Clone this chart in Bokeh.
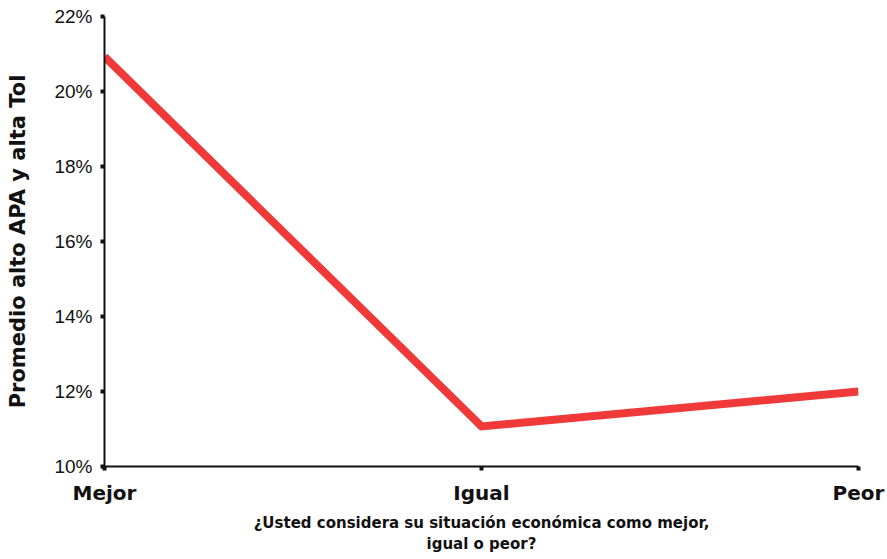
from bokeh.plotting import figure
from bokeh.models import Range1d, FixedTicker, ColumnDataSource
from bokeh.embed import file_html
from bokeh.resources import INLINE

categories = ["Mejor", "Igual", "Peor"]
values = [20.93, 11.07, 12.0]
y_ticks = [10, 12, 14, 16, 18, 20, 22]

xs = list(range(len(categories)))
src = ColumnDataSource(dict(x=xs, y=values))

p = figure(width=887, height=559, output_backend="svg", toolbar_location=None,
           x_range=Range1d(0, 2), y_range=Range1d(10, 22),
           min_border_left=104, min_border_right=29, min_border_top=16, min_border_bottom=93)
p.outline_line_color = None
p.xgrid.grid_line_color = None
p.ygrid.grid_line_color = None
p.background_fill_color = "white"

p.line("x", "y", source=src, line_color="#F03A3A", line_width=8, line_join="miter")

font = "Liberation Sans"
bold_font = "DejaVu Sans"
p.yaxis.ticker = FixedTicker(ticks=y_ticks)
p.yaxis.major_label_overrides = {t: f"{t}%" for t in y_ticks}
p.yaxis.major_label_text_font = font
p.yaxis.major_label_text_font_size = "19px"
p.yaxis.major_label_text_color = "#111111"
p.yaxis.axis_label = "Promedio alto APA y alta Tol"
p.yaxis.axis_label_text_font = bold_font
p.yaxis.axis_label_text_font_style = "bold"
p.yaxis.axis_label_text_font_size = "21px"
p.yaxis.axis_label_text_color = "#111111"
p.yaxis.axis_label_standoff = 21
p.yaxis.minor_tick_line_color = None

p.xaxis.ticker = FixedTicker(ticks=xs)
p.xaxis.major_label_overrides = {i: c for i, c in zip(xs, categories)}
p.xaxis.major_label_text_font = bold_font
p.xaxis.major_label_text_font_style = "bold"
p.xaxis.major_label_text_font_size = "20px"
p.xaxis.major_label_text_color = "#111111"
p.xaxis.axis_label = "¿Usted considera su situación económica como mejor,\nigual o peor?"
p.xaxis.axis_label_text_font = bold_font
p.xaxis.axis_label_text_font_style = "bold"
p.xaxis.axis_label_text_font_size = "15px"
p.xaxis.axis_label_text_color = "#111111"
p.xaxis.axis_label_standoff = 6
p.xaxis.minor_tick_line_color = None

for ax in (p.xaxis, p.yaxis):
    ax.axis_line_width = 2
    ax.axis_line_color = "#111111"
    ax.major_tick_line_width = 4
    ax.major_tick_line_color = "#111111"
    ax.major_tick_out = 4
    ax.major_tick_in = 0
p.yaxis.major_label_standoff = 8
p.xaxis.major_label_standoff = 10

open("out.html", "w").write(file_html(p, INLINE))
